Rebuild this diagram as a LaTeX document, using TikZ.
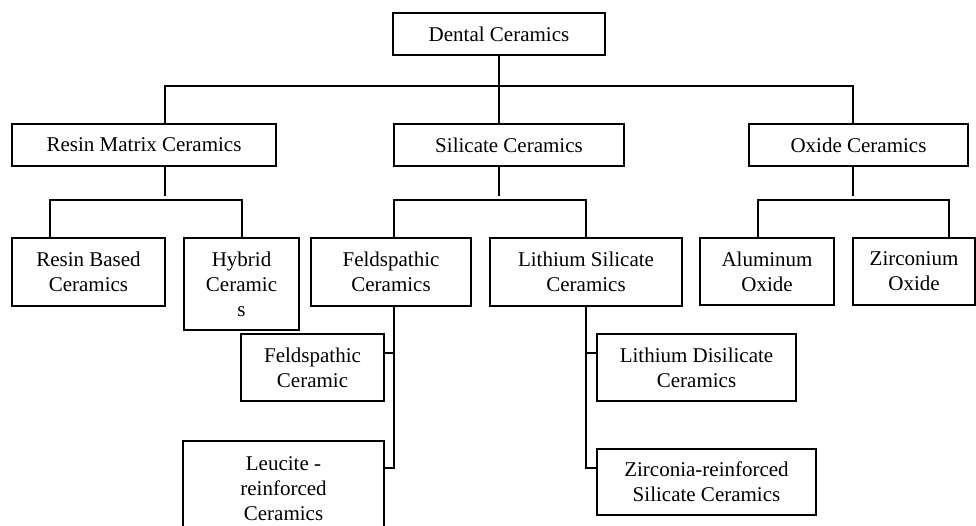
\documentclass[tikz,border=0pt]{standalone}
\usepackage{fontspec}
\setmainfont{Liberation Serif}
\begin{document}
\begin{tikzpicture}[x=1pt,y=-1pt,
  box/.style={draw, line width=1.5pt, rectangle, inner sep=0pt, outer sep=0pt, align=center,
    anchor=north west, font=\fontsize{21}{25}\selectfont},
  conn/.style={line width=1.5pt}]
\useasboundingbox (0,0) rectangle (976,526);
\clip (0,0) rectangle (976,526);
% level 0
\node[box, minimum width=212pt, minimum height=42pt] (dc) at (393,13) {Dental Ceramics};
% level 1
\node[box, minimum width=264pt, minimum height=42pt] (rmc) at (12,124) {Resin Matrix Ceramics};
\node[box, minimum width=230pt, minimum height=42pt] (sc) at (394,124) {Silicate Ceramics};
\node[box, minimum width=219pt, minimum height=42pt] (oc) at (749,124) {Oxide Ceramics};
% level 2
\node[box, minimum width=153pt, minimum height=68pt] (rbc) at (12,238) {Resin Based\\Ceramics};
\node[box, minimum width=115pt, minimum height=92pt] (hc) at (184,238) {Hybrid\\Ceramic\\s};
\node[box, minimum width=160pt, minimum height=68pt] (fc) at (311,238) {Feldspathic\\Ceramics};
\node[box, minimum width=192pt, minimum height=68pt] (lsc) at (490,238) {Lithium Silicate\\Ceramics};
\node[box, minimum width=134pt, minimum height=67pt] (ao) at (700,238) {Aluminum\\Oxide};
\node[box, minimum width=122pt, minimum height=67pt] (zo) at (853,238) {Zirconium\\Oxide};
% level 3
\node[box, minimum width=143pt, minimum height=67pt] (fc2) at (241,334) {Feldspathic\\Ceramic};
\node[box, minimum width=201pt, minimum height=96pt] (lrc) at (183,441) {Leucite -\\reinforced\\Ceramics};
\node[box, minimum width=199pt, minimum height=67pt] (ldc) at (597,334) {Lithium Disilicate\\Ceramics};
\node[box, minimum width=219pt, minimum height=66pt] (zrsc) at (597,449) {Zirconia-reinforced\\Silicate Ceramics};
% bus coordinates
\coordinate (b0) at (499,86);
\coordinate (bl) at (165,86);
\coordinate (br) at (853,86);
% level 0 -> 1
\draw[conn] (499,0 |- dc.south) -- (b0);
\draw[conn] (165,0 |- rmc.north) -- (bl) -- (br) -- (853,0 |- oc.north);
\draw[conn] (b0) -- (499,0 |- sc.north);
% level 1 -> 2
\draw[conn] (165,0 |- rmc.south) -- (165,196);
\draw[conn] (50,0 |- rbc.north) -- (50,200) -- (242,200) -- (242,0 |- hc.north);
\draw[conn] (499,0 |- sc.south) -- (499,196);
\draw[conn] (394,0 |- fc.north) -- (394,200) -- (586,200) -- (586,0 |- lsc.north);
\draw[conn] (853,0 |- oc.south) -- (853,196);
\draw[conn] (758,0 |- ao.north) -- (758,200) -- (949,200) -- (949,0 |- zo.north);
% level 2 -> 3
\draw[conn] (394,0 |- fc.south) -- (394,468) -- (lrc.east |- 0,468);
\draw[conn] (394,353) -- (fc2.east |- 0,353);
\draw[conn] (586,0 |- lsc.south) -- (586,468) -- (zrsc.west |- 0,468);
\draw[conn] (586,353) -- (ldc.west |- 0,353);
\end{tikzpicture}
\end{document}
